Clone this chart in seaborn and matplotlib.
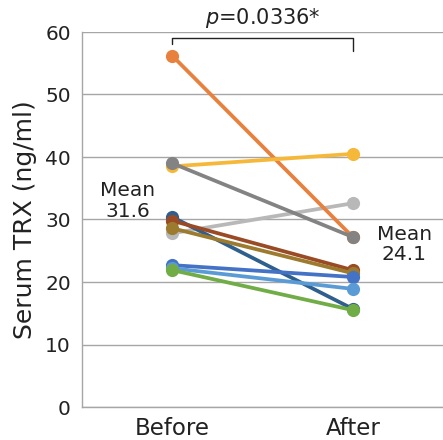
import pandas as pd
import matplotlib
matplotlib.use("Agg")
import matplotlib.pyplot as plt
import seaborn as sns

# values
timepoints = ["Before", "After"]
subjects = ["S1", "S2", "S3", "S4", "S5", "S6", "S7", "S8", "S9", "S10"]
before = [27.8, 56.2, 38.5, 39.0, 30.4, 29.8, 28.6, 22.7, 22.2, 21.9]
after = [32.6, 27.2, 40.5, 27.2, 15.7, 21.9, 21.4, 20.8, 18.9, 15.5]
colors = ["#B8B8B8", "#E8803E", "#F5B839", "#838383", "#2F5F8C",
          "#9A4B25", "#9C7A2E", "#4472C4", "#5B9BD5", "#70AD47"]
mean_before = "Mean\n31.6"
mean_after = "Mean\n24.1"
p_label = "$p$=0.0336*"

rows = []
for i, s in enumerate(subjects):
    rows.append({"subject": s, "x": 0, "value": before[i]})
    rows.append({"subject": s, "x": 1, "value": after[i]})
df = pd.DataFrame(rows)

sns.set_style("white")
plt.rcParams["font.family"] = ["DejaVu Sans"]

fig = plt.figure(figsize=(4.43, 4.40), dpi=100)
ax = fig.add_axes([82 / 443, 33 / 440, 361 / 443, 375 / 440])

ax.yaxis.grid(True, color="#A6A6A6", linewidth=1.0, zorder=0)
ax.set_axisbelow(True)

# draw subject by subject so the stacking order matches
for i, s in enumerate(subjects):
    sns.lineplot(data=df[df["subject"] == s], x="x", y="value", color=colors[i],
                 marker="o", markersize=9.5, markeredgewidth=0, linewidth=2.7,
                 ax=ax, legend=False, zorder=3 + i)

ax.set_xlim(-0.5, 1.5)
ax.set_ylim(0, 60)
ax.set_yticks(range(0, 61, 10))
ax.set_xticks([0, 1])
ax.set_xticklabels(timepoints, fontsize=16.5, color="#222222")
ax.tick_params(axis="y", labelsize=14.5, colors="#222222", length=0, pad=8)
ax.tick_params(axis="x", length=0, pad=7)
ax.set_xlabel("")
ax.set_ylabel("Serum TRX (ng/ml)", fontsize=18, color="#222222", labelpad=6)

for side in ["top", "right"]:
    ax.spines[side].set_visible(False)
for side in ["left", "bottom"]:
    ax.spines[side].set_color("#A6A6A6")
    ax.spines[side].set_linewidth(1.0)

ax.text(-0.245, 33.0, mean_before, fontsize=14.5, ha="center", va="center",
        color="#222222", linespacing=1.1)
ax.text(1.285, 26.0, mean_after, fontsize=14.5, ha="center", va="center",
        color="#222222", linespacing=1.1)

# significance bracket
ax.plot([0, 0, 1, 1], [58.0, 59.0, 59.0, 57.0], color="#222222",
        linewidth=1.0, clip_on=False, zorder=20)
ax.text(0.5, 60.3, p_label, fontsize=15, ha="center", va="bottom",
        color="#222222")

fig.savefig("out.png", dpi=100)
